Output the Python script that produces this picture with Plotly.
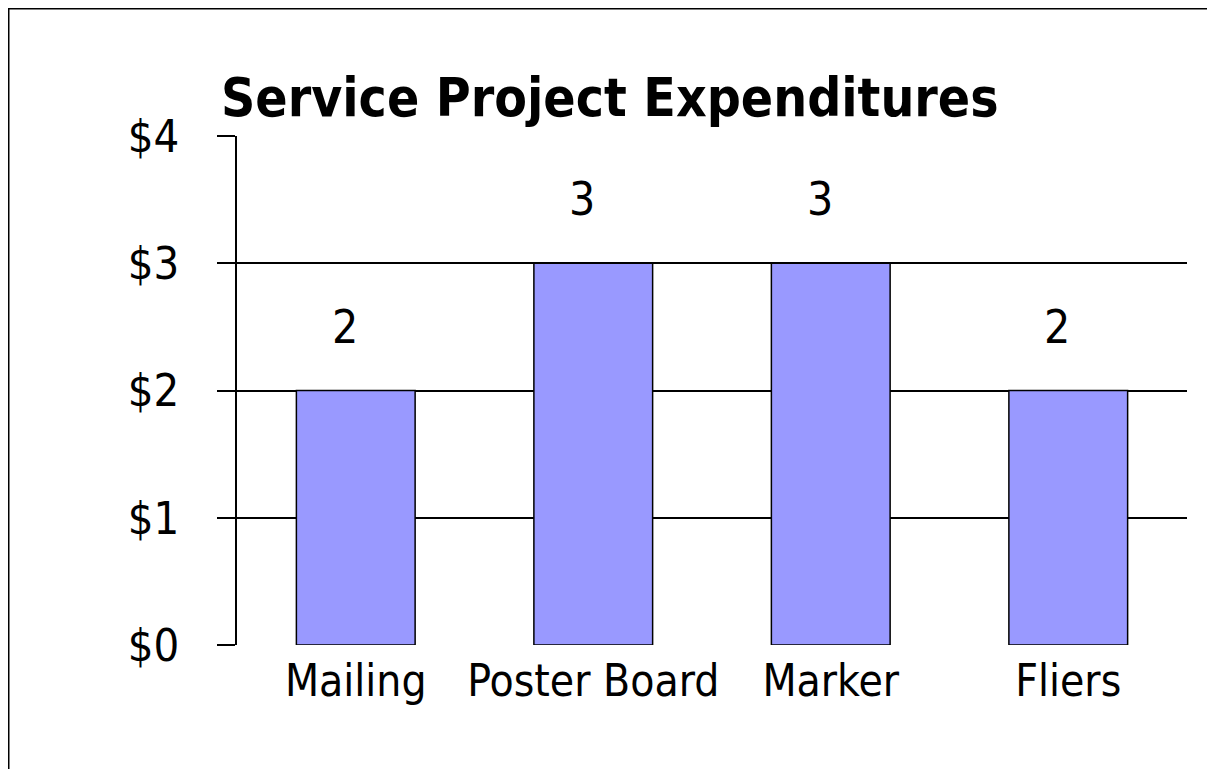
import plotly.graph_objects as go

categories = ["Mailing", "Poster Board", "Marker", "Fliers"]
values = [2, 3, 3, 2]
y_ticks = [0, 1, 2, 3, 4]
y_tick_labels = ["$0", "$1", "$2", "$3", "$4"]
title_text = "Service Project Expenditures"

# page has an 8px body margin, so the figure is sized to fit the window
W, H = 1207, 761
FONT = "Comic Sans MS, DejaVu Sans Condensed, DejaVu Sans, sans-serif"

fig = go.Figure()
fig.add_trace(go.Bar(
    x=categories, y=values,
    width=0.5,
    marker=dict(color="#9999FF", line=dict(color="black", width=1.5)),
    showlegend=False, hoverinfo="skip",
))

for c, v in zip(categories, values):
    fig.add_annotation(x=c, y=v, text=str(v), showarrow=False,
                       yshift=64, xshift=-11, yanchor="middle",
                       font=dict(family=FONT, size=46, color="black"))

fig.add_annotation(xref="paper", yref="paper", x=211 / W, y=1 - 90 / H,
                   xanchor="left", yanchor="middle", text="<b>" + title_text + "</b>",
                   showarrow=False, font=dict(family=FONT, size=53, color="black"))

# outer frame (top and left edges visible in the reference)
fig.add_shape(type="line", xref="paper", yref="paper", x0=0, x1=1,
              y0=1 - 0.75 / H, y1=1 - 0.75 / H, line=dict(color="black", width=1.5))
fig.add_shape(type="line", xref="paper", yref="paper", x0=0.75 / W, x1=0.75 / W,
              y0=0, y1=1, line=dict(color="black", width=1.5))

fig.update_layout(
    width=W, height=H,
    margin=dict(l=0, r=0, t=0, b=0, autoexpand=False),
    paper_bgcolor="white", plot_bgcolor="white",
    xaxis=dict(domain=[229 / W, 1179 / W], showgrid=False, ticks="",
               showline=False, zeroline=False, automargin=False,
               tickfont=dict(family=FONT, size=44, color="black"),
               ticklabelstandoff=6),
    yaxis=dict(domain=[1 - 637 / H, 1 - 128 / H], range=[0, 4],
               tickvals=y_ticks, ticktext=y_tick_labels,
               showgrid=True, gridcolor="black", gridwidth=1.5,
               ticks="outside", ticklen=18, tickcolor="black", tickwidth=1.5,
               showline=True, linecolor="black", linewidth=1.5,
               zeroline=False, automargin=False,
               tickfont=dict(family=FONT, size=45, color="black"),
               ticklabelstandoff=29),
)

fig.write_html("out.html")
